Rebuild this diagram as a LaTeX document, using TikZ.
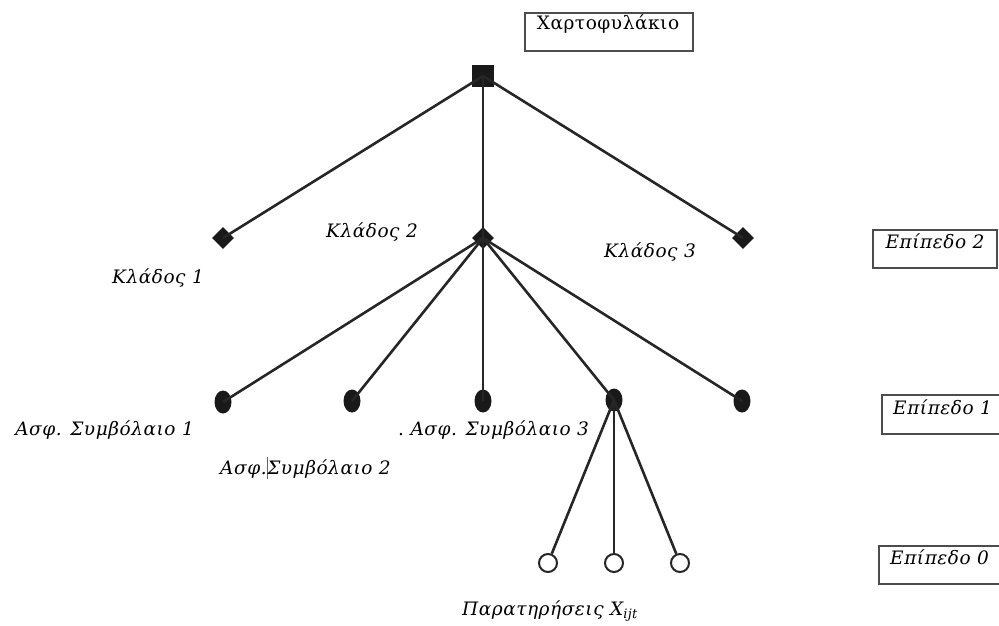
\documentclass[tikz,border=0pt]{standalone}
\usepackage{fontspec}
\setmainfont{DejaVu Serif}
\newfontfamily\labfont[LetterSpace=3]{DejaVu Serif}
\newfontfamily\topfont[LetterSpace=3]{DejaVu Serif}
\usetikzlibrary{shapes.geometric}
\begin{document}
\begin{tikzpicture}[x=1pt,y=-1pt,
 edge/.style={line width=2.6pt, draw=black!85},
 rootnode/.style={rectangle, fill=black!90, minimum size=22pt, inner sep=0},
 branch/.style={diamond, fill=black!90, minimum size=22pt, inner sep=0},
 policy/.style={ellipse, fill=black!90, minimum width=17pt, minimum height=23pt, inner sep=0},
 obs/.style={circle, draw=black!85, line width=2pt, fill=white, minimum size=18pt, inner sep=0},
 lab/.style={font=\fontsize{18.5}{21}\labfont\itshape, inner sep=0, text=black},
 uplab/.style={font=\fontsize{18.5}{21}\topfont, inner sep=0, text=black},
 lvlbox/.style={draw=black!70, line width=1.2pt},
]
\useasboundingbox (0,0) rectangle (999,626);

% boxes
\draw[lvlbox] (525,13) rectangle (693,51);
\node[uplab] (tp) at (608,24) {Χαρτοφυλάκιο};
\draw[lvlbox] (873,230) rectangle (997,268);
\node[lab] (l2) at (935,241) {Επίπεδο 2};
\draw[lvlbox] (882,395) rectangle (1010,434);
\node[lab, anchor=west] (l1) at (893,407) {Επίπεδο 1};
\draw[lvlbox] (879,546) rectangle (1010,584);
\node[lab, anchor=west] (l0) at (890,557) {Επίπεδο 0};

% nodes
\node[rootnode] (r) at (483,76) {};
\node[branch] (k1) at (223,238) {};
\node[branch] (k2) at (483,238) {};
\node[branch] (k3) at (743,238) {};
\node[policy] (p1) at (223,402) {};
\node[policy] (p2) at (352,401) {};
\node[policy] (p3) at (483,401) {};
\node[policy] (p4) at (614,400) {};
\node[policy] (p5) at (742,401) {};

% edges
\draw[edge] (r.center) -- (k1.center);
\draw[edge] (r.center) -- (k2.center);
\draw[edge] (r.center) -- (k3.center);
\foreach \p in {p1,p2,p3,p4,p5} \draw[edge] (k2.center) -- (\p.center);

\node[obs] (o1) at (548,563) {};
\node[obs] (o2) at (614,563) {};
\node[obs] (o3) at (680,563) {};
\foreach \o in {o1,o2,o3} \draw[edge] (p4.center) -- (\o);

% labels
\node[lab] (lk1) at (158,278) {Κλάδος 1};
\node[lab] (lk2) at (372,232) {Κλάδος 2};
\node[lab] (lk3) at (650,252) {Κλάδος 3};
\node[lab, anchor=east] (lp1) at (194,430) {Ασφ. Συμβόλαιο 1};
\node[lab, anchor=west] (lp2) at (220,468) {Ασφ.{\color{black!60}\rule[-0.25em]{0.6pt}{1.2em}}Συμβόλαιο 2};
\node[lab, anchor=west] (lp3) at (398,430) {{\upshape .}\ Ασφ. Συμβόλαιο 3};
\node[lab] (lo) at (550,611) {Παρατηρήσεις X\textsubscript{ijt}};
\end{tikzpicture}
\end{document}
